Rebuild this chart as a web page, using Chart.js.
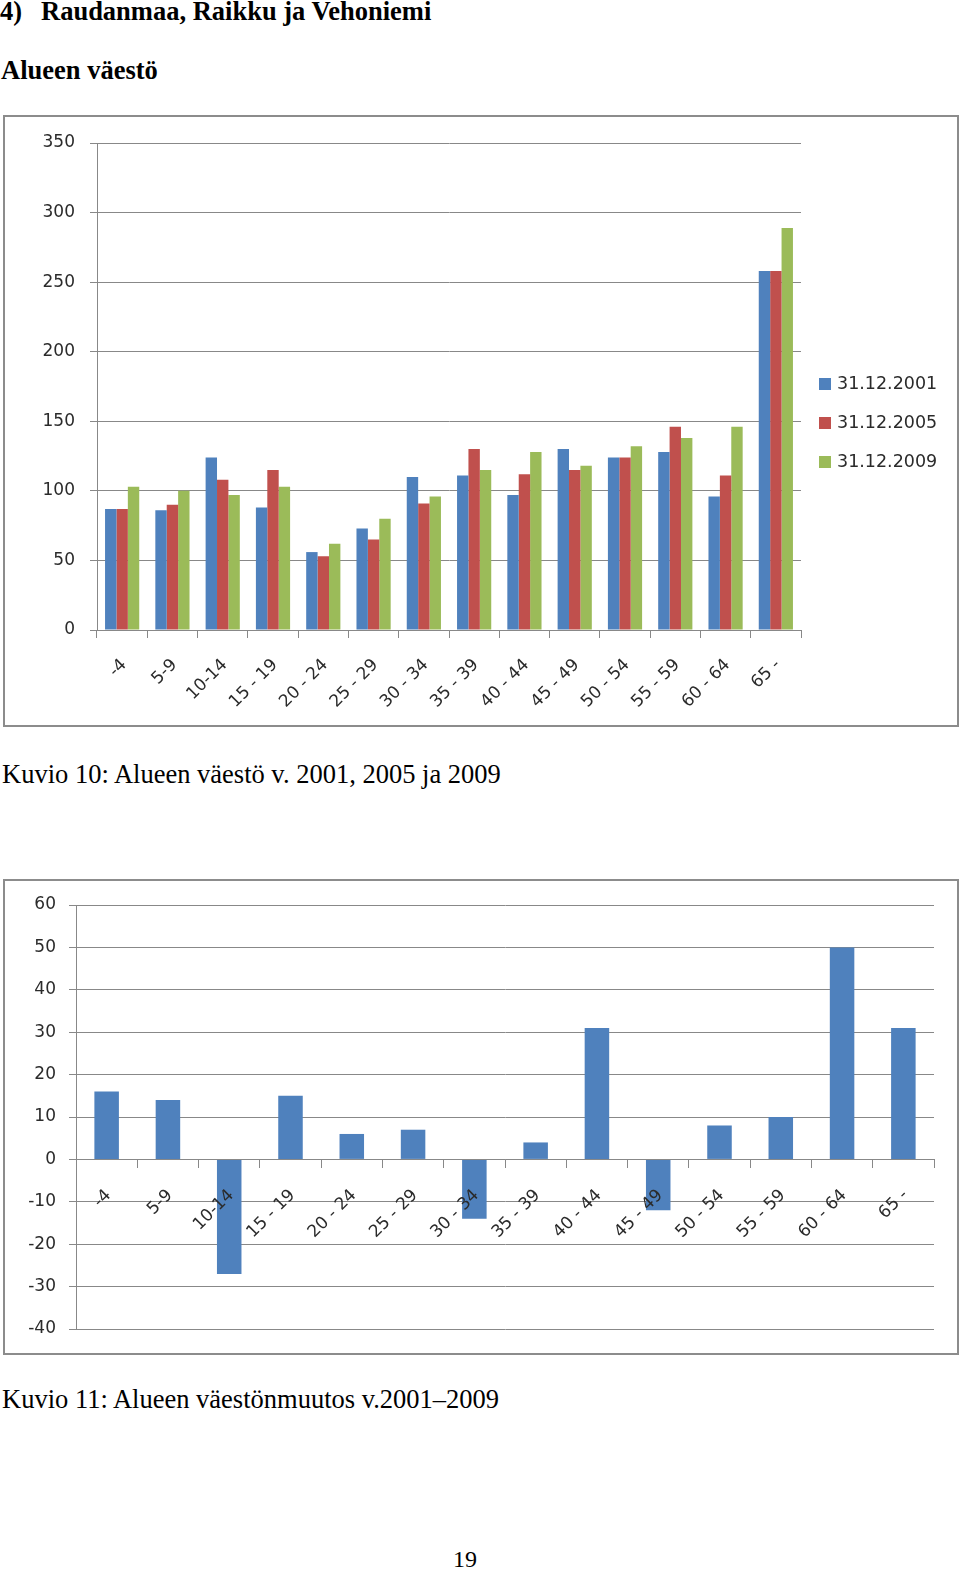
<!DOCTYPE html>
<html lang="fi">
<head>
<meta charset="UTF-8">
<title>Raudanmaa, Raikku ja Vehoniemi</title>
<style>
  body {
    margin: 0;
    width: 960px;
    height: 1575px;
    position: relative;
    overflow: hidden;
    background: #fff;
    color: #000;
    font-family: 'Liberation Serif', 'Times New Roman', serif;
  }
  .txt {
    position: absolute;
    font-size: 26.5px;
    line-height: 30px;
    white-space: nowrap;
  }
  .bold { font-weight: bold; }
  .box {
    position: absolute;
    border: 2px solid #8c8c8c;
    box-sizing: border-box;
  }
  .box canvas { display: block; }
</style>
<script src="https://cdn.jsdelivr.net/npm/chart.js"></script>
</head>
<body>
<div class="txt bold" style="left:0;top:-4px">4)</div>
<div class="txt bold" style="left:41px;top:-4px">Raudanmaa, Raikku ja Vehoniemi</div>
<div class="txt bold" style="left:1px;top:55px">Alueen väestö</div>

<div class="box" style="left:3px;top:115px;width:956px;height:612px"><canvas id="popChart"></canvas></div>
<div class="txt" style="left:2px;top:759px">Kuvio 10: Alueen väestö v. 2001, 2005 ja 2009</div>

<div class="box" style="left:3px;top:879px;width:956px;height:476px"><canvas id="changeChart"></canvas></div>
<div class="txt" style="left:2px;top:1384px">Kuvio 11: Alueen väestönmuutos v.2001–2009</div>

<div class="txt" style="left:453px;top:1544px;font-size:24px">19</div>

<script>
// age groups
const ageGroups = ['-4', '5-9', '10-14', '15 - 19', '20 - 24', '25 - 29', '30 - 34',
                   '35 - 39', '40 - 44', '45 - 49', '50 - 54', '55 - 59', '60 - 64', '65 -'];

// population at each date
const seriesLabels = ['31.12.2001', '31.12.2005', '31.12.2009'];
const pop2001 = [87, 86, 124, 88, 56, 73, 110, 111, 97, 130, 124, 128, 96, 258];
const pop2005 = [87, 90, 108, 115, 53, 65, 91, 130, 112, 115, 124, 146, 111, 258];
const pop2009 = [103, 100, 97, 103, 62, 80, 96, 115, 128, 118, 132, 138, 146, 289];

// change 2001-2009
const change = [16, 14, -27, 15, 6, 7, -14, 4, 31, -12, 8, 10, 50, 31];

const popTicks = {min: 0, max: 350, step: 50};
const changeTicks = {min: -40, max: 60, step: 10};

const BLUE = '#4f81bd', RED = '#c0504d', GREEN = '#9bbb59';
const GRID = '#888888';
const TEXT = '#2b2b2b';
const SANS = "'DejaVu Sans', sans-serif";

// legend drawn at the right side, Excel style
const sideLegend = {
    id: 'sideLegend',
    afterDraw(chart, args, opts) {
        if (!opts.show) return;
        const ctx = chart.ctx;
        ctx.save();
        ctx.font = opts.font;
        ctx.textBaseline = 'middle';
        chart.data.datasets.forEach((ds, i) => {
            const y = opts.y + i * opts.gap;
            ctx.fillStyle = ds.backgroundColor;
            ctx.fillRect(opts.x, y - 6, 12, 12);
            ctx.fillStyle = TEXT;
            ctx.fillText(ds.label, opts.x + 18, y);
        });
        ctx.restore();
    }
};
Chart.register(sideLegend);

function xTicks(pad, z) {
    return {
        autoSkip: false,
        minRotation: 45,
        maxRotation: 45,
        labelOffset: 2,
        padding: pad,
        z: z,
        color: TEXT,
        font: {family: SANS, size: 17}
    };
}

function xAxis(extra) {
    return Object.assign({
        type: 'category',
        grid: {
            offset: true,
            drawOnChartArea: false,
            drawTicks: true,
            tickLength: 8,
            color: GRID
        },
        border: {color: GRID}
    }, extra);
}

function yAxis(t, width, pad) {
    return {
        min: t.min,
        max: t.max,
        grid: {color: GRID, tickLength: 7},
        border: {color: GRID},
        ticks: {
            stepSize: t.step,
            padding: pad,
            color: TEXT,
            font: {family: SANS, size: 17}
        },
        afterFit(scale) { scale.width = width; }
    };
}

// Kuvio 10
new Chart(document.getElementById('popChart'), {
    type: 'bar',
    data: {
        labels: ageGroups,
        datasets: [
            {label: seriesLabels[0], data: pop2001, backgroundColor: BLUE},
            {label: seriesLabels[1], data: pop2005, backgroundColor: RED},
            {label: seriesLabels[2], data: pop2009, backgroundColor: GREEN}
        ]
    },
    options: {
        responsive: true,
        maintainAspectRatio: false,
        animation: false,
        datasets: {bar: {categoryPercentage: 0.68, barPercentage: 1}},
        layout: {padding: {left: 0, top: 26, right: 156, bottom: 0}},
        plugins: {
            legend: {display: false},
            tooltip: {enabled: false},
            sideLegend: {show: true, x: 814, y: 267, gap: 39, font: "17.5px 'DejaVu Sans', sans-serif"}
        },
        scales: {
            x: xAxis({
                ticks: xTicks(17, 0),
                afterFit(scale) { scale.height = 95; }
            }),
            y: yAxis(popTicks, 92, 15)
        }
    }
});

// Kuvio 11 - labels sit on top of the bars
new Chart(document.getElementById('changeChart'), {
    type: 'bar',
    data: {
        labels: ageGroups,
        datasets: [
            {label: 'Muutos', data: change, backgroundColor: BLUE}
        ]
    },
    options: {
        responsive: true,
        maintainAspectRatio: false,
        animation: false,
        datasets: {bar: {categoryPercentage: 0.4, barPercentage: 1}},
        layout: {padding: {left: 0, top: 24, right: 23, bottom: 24}},
        plugins: {
            legend: {display: false},
            tooltip: {enabled: false},
            sideLegend: {show: false}
        },
        scales: {
            x: xAxis({
                position: {y: 0},
                ticks: xTicks(18, 1),
                afterFit(scale) { scale.height = 0; }
            }),
            y: yAxis(changeTicks, 71, 13)
        }
    }
});
</script>
</body>
</html>
